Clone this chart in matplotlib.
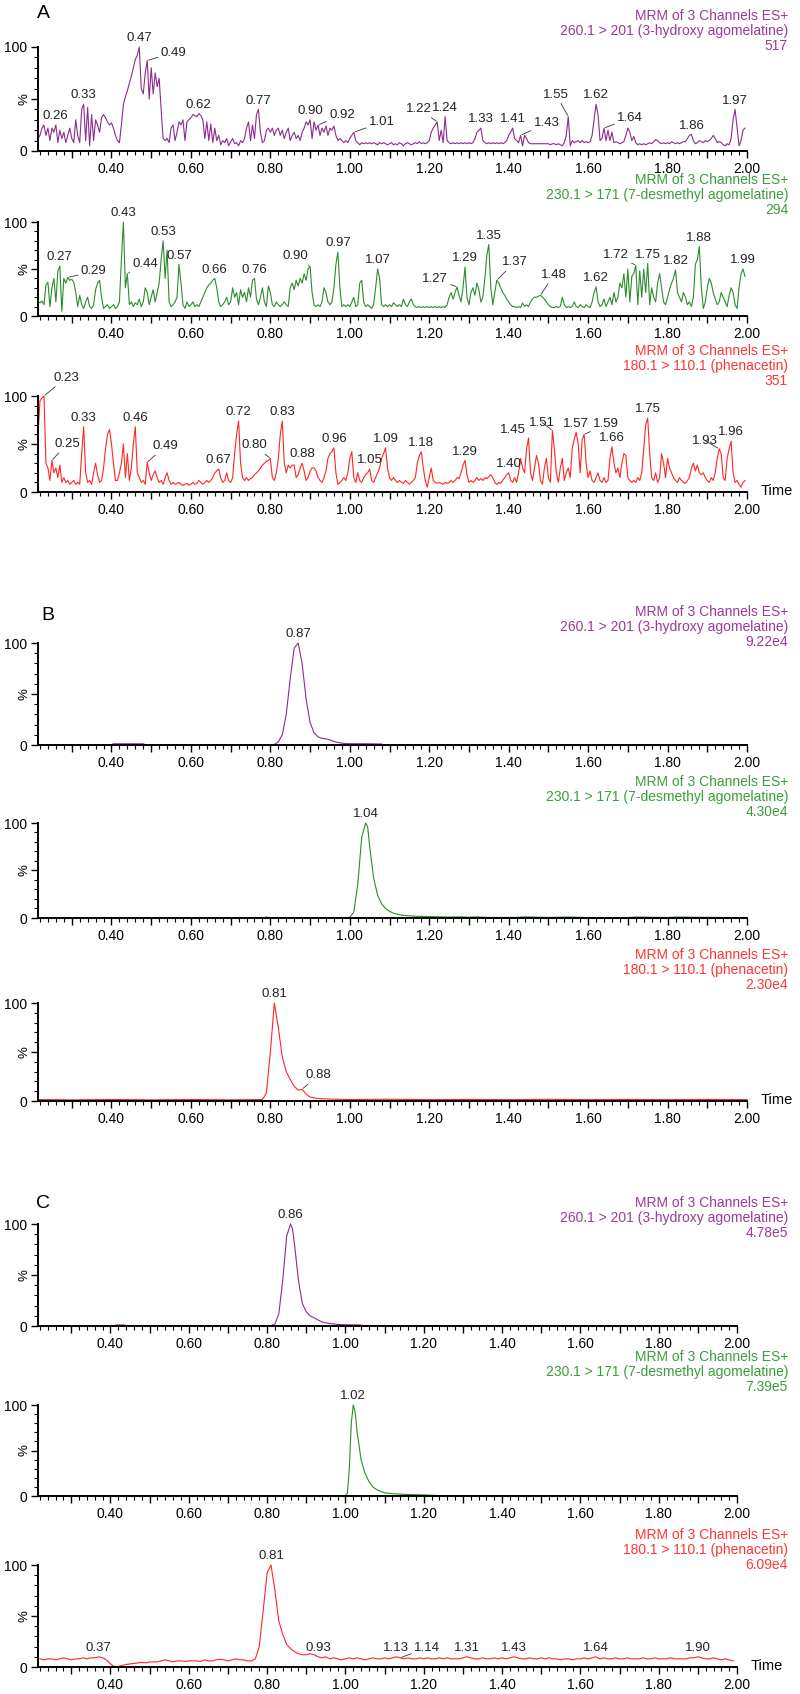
import numpy as np
import matplotlib
matplotlib.use("Agg")
import matplotlib.pyplot as plt
from matplotlib.ticker import MultipleLocator, FixedLocator, FuncFormatter

plt.rcParams['font.family'] = ['Liberation Sans', 'DejaVu Sans']

W, H = 800, 1694

# =============================================================================
# data
# =============================================================================

# --- panel A (blank-ish noise traces), one scan every 0.005 min from 0.215
a_start, a_step = 0.215, 0.005

a1_hydroxy = [
    12, 15, 22, 25, 15, 22, 10, 22, 18, 25, 8, 20, 12, 18, 8, 15, 22, 12, 8, 30,
    15, 8, 40, 45, 10, 42, 5, 35, 10, 30, 25, 18, 32, 35, 32, 28, 25, 27, 22, 15,
    10, 8, 25, 45, 52, 58, 65, 72, 80, 88, 92, 100, 60, 55, 75, 87, 50, 80, 55, 75,
    62, 70, 40, 12, 10, 12, 8, 22, 25, 10, 18, 28, 25, 30, 10, 28, 30, 32, 35, 34,
    33, 36, 34, 30, 12, 28, 10, 26, 8, 22, 10, 15, 6, 10, 8, 12, 5, 9, 12, 7,
    8, 5, 10, 8, 12, 22, 28, 10, 25, 12, 35, 40, 18, 8, 10, 20, 22, 18, 22, 15,
    20, 22, 15, 20, 12, 18, 22, 10, 15, 18, 12, 15, 10, 18, 22, 28, 25, 30, 12, 28,
    20, 25, 15, 22, 18, 24, 15, 22, 20, 24, 15, 10, 12, 10, 8, 10, 8, 12, 15, 18,
    10, 8, 6, 8, 7, 8, 7, 8, 7, 8, 7, 6, 8, 7, 8, 7, 6, 7, 8, 6,
    7, 6, 8, 7, 5, 7, 8, 7, 6, 7, 8, 7, 9, 7, 8, 7, 8, 10, 18, 22,
    25, 28, 10, 20, 8, 33, 10, 8, 7, 8, 7, 8, 7, 8, 7, 8, 7, 8, 7, 8,
    12, 18, 20, 22, 10, 8, 7, 8, 7, 8, 7, 8, 7, 8, 7, 8, 10, 15, 18, 22,
    12, 10, 8, 15, 5, 15, 12, 8, 7, 7, 7, 7, 7, 7, 7, 7, 7, 7, 6, 7,
    7, 6, 7, 6, 5, 8, 15, 33, 5, 10, 8, 9, 10, 8, 10, 8, 9, 8, 9, 15,
    30, 45, 35, 10, 12, 22, 10, 20, 10, 18, 8, 9, 8, 7, 8, 9, 15, 22, 18, 10,
    14, 8, 6, 7, 6, 7, 6, 7, 8, 7, 9, 11, 10, 8, 7, 8, 7, 8, 7, 9,
    8, 7, 8, 7, 8, 9, 9, 12, 15, 16, 10, 7, 8, 10, 9, 8, 10, 9, 10, 12,
    15, 12, 8, 9, 8, 6, 5, 7, 6, 12, 30, 40, 22, 5, 10, 20, 22,
]
a2_desmethyl = [
    15, 14, 16, 12, 33, 36, 10, 30, 40, 15, 48, 53, 5, 40, 35, 41, 38, 39, 36, 25,
    10, 22, 12, 8, 15, 20, 10, 8, 12, 28, 35, 38, 20, 8, 10, 12, 8, 10, 12, 8,
    10, 15, 60, 100, 30, 45, 12, 15, 10, 14, 12, 18, 10, 15, 30, 25, 12, 20, 28, 15,
    25, 35, 60, 80, 40, 70, 15, 10, 12, 15, 20, 55, 35, 12, 8, 15, 10, 12, 15, 10,
    12, 10, 15, 20, 25, 30, 33, 35, 38, 40, 30, 15, 10, 12, 15, 20, 12, 15, 30, 20,
    25, 12, 28, 20, 25, 15, 30, 20, 38, 40, 18, 12, 20, 30, 15, 10, 32, 25, 12, 10,
    15, 12, 10, 12, 15, 12, 10, 30, 35, 28, 38, 32, 40, 35, 45, 38, 50, 53, 25, 12,
    10, 12, 10, 15, 30, 25, 15, 12, 15, 30, 55, 68, 30, 10, 12, 10, 12, 10, 15, 20,
    10, 12, 35, 38, 15, 10, 12, 10, 8, 12, 30, 50, 40, 12, 10, 12, 10, 12, 10, 14,
    12, 10, 12, 10, 18, 12, 10, 15, 18, 12, 10, 9, 10, 9, 10, 9, 10, 9, 10, 9,
    10, 9, 10, 9, 10, 9, 12, 20, 25, 18, 25, 31, 22, 15, 30, 52, 20, 12, 25, 30,
    22, 35, 28, 15, 20, 40, 65, 76, 30, 12, 25, 38, 35, 30, 25, 22, 18, 15, 12, 10,
    10, 9, 10, 9, 14, 10, 12, 10, 15, 18, 20, 20, 21, 22, 20, 18, 15, 12, 10, 9,
    9, 10, 9, 10, 20, 12, 9, 10, 9, 10, 15, 10, 9, 12, 10, 9, 12, 10, 9, 15,
    25, 31, 15, 10, 12, 18, 10, 15, 20, 12, 25, 15, 20, 35, 30, 45, 20, 50, 15, 42,
    45, 54, 12, 48, 20, 50, 25, 56, 12, 30, 20, 15, 35, 45, 30, 15, 12, 20, 28, 35,
    40, 49, 25, 20, 15, 25, 20, 12, 15, 10, 20, 55, 60, 74, 30, 8, 15, 30, 40, 35,
    25, 18, 12, 15, 25, 20, 15, 10, 22, 30, 25, 12, 8, 30, 45, 50, 42,
]
a3_phenacetin = [
    60, 95, 98, 100, 30, 25, 12, 33, 20, 25, 15, 28, 10, 15, 10, 12, 8, 10, 12, 8,
    10, 8, 40, 68, 20, 10, 12, 8, 20, 30, 18, 10, 12, 25, 45, 60, 65, 50, 30, 12,
    12, 20, 30, 50, 15, 40, 12, 25, 50, 68, 20, 15, 10, 12, 8, 31, 20, 12, 18, 22,
    15, 10, 12, 8, 15, 20, 12, 8, 10, 8, 9, 10, 8, 7, 8, 9, 7, 8, 10, 8,
    9, 12, 10, 8, 10, 12, 10, 12, 15, 20, 22, 24, 15, 10, 12, 20, 12, 10, 15, 40,
    60, 74, 30, 15, 12, 15, 12, 14, 15, 18, 20, 22, 25, 28, 30, 32, 33, 35, 15, 12,
    20, 35, 60, 74, 30, 20, 28, 25, 28, 28, 15, 18, 25, 30, 22, 12, 15, 22, 25, 25,
    22, 15, 12, 10, 15, 22, 35, 40, 42, 46, 20, 8, 10, 12, 15, 12, 20, 35, 42, 15,
    10, 20, 12, 10, 15, 18, 20, 24, 12, 10, 15, 20, 25, 35, 40, 46, 25, 15, 12, 15,
    12, 10, 12, 10, 9, 12, 10, 8, 10, 12, 15, 30, 38, 42, 25, 12, 5, 15, 25, 12,
    10, 9, 10, 9, 8, 10, 9, 10, 12, 10, 12, 15, 14, 20, 28, 33, 18, 10, 12, 10,
    12, 15, 12, 14, 12, 15, 14, 16, 18, 15, 10, 8, 10, 9, 12, 15, 18, 20, 12, 10,
    15, 10, 20, 35, 25, 20, 45, 56, 20, 12, 25, 38, 30, 12, 8, 25, 35, 15, 10, 64,
    45, 20, 10, 25, 35, 12, 20, 25, 15, 45, 55, 62, 50, 20, 55, 60, 30, 15, 22, 12,
    10, 15, 20, 12, 10, 15, 10, 12, 35, 47, 30, 20, 25, 15, 30, 40, 38, 15, 12, 10,
    12, 10, 15, 12, 20, 45, 70, 77, 40, 15, 12, 20, 10, 15, 40, 30, 15, 35, 25, 20,
    15, 12, 10, 15, 12, 10, 9, 12, 15, 25, 30, 22, 28, 20, 18, 20, 15, 12, 10, 15,
    12, 20, 35, 45, 40, 15, 12, 35, 45, 53, 20, 10, 12, 8, 5, 10, 12,
]

a1_peaks = ["0.26", "0.33", "0.47", "0.49", "0.62", "0.77", "0.90", "0.92", "1.01",
            "1.22", "1.24", "1.33", "1.41", "1.43", "1.55", "1.62", "1.64", "1.86", "1.97"]
a2_peaks = ["0.27", "0.29", "0.43", "0.44", "0.53", "0.57", "0.66", "0.76", "0.90",
            "0.97", "1.07", "1.27", "1.29", "1.35", "1.37", "1.48", "1.62", "1.72",
            "1.75", "1.82", "1.88", "1.99"]
a3_peaks = ["0.23", "0.25", "0.33", "0.46", "0.49", "0.67", "0.72", "0.80", "0.83",
            "0.88", "0.96", "1.05", "1.09", "1.18", "1.29", "1.40", "1.45", "1.51",
            "1.57", "1.59", "1.66", "1.75", "1.93", "1.96"]

# --- panel B (extracted sample)
b1_time = [0.215, 0.40, 0.405, 0.48, 0.485, 0.80, 0.81, 0.82, 0.83, 0.84, 0.85, 0.86,
           0.87, 0.88, 0.89, 0.90, 0.91, 0.92, 0.93, 0.94, 0.95, 0.96, 0.97, 0.98,
           0.99, 1.00, 1.04, 1.08, 1.085, 2.00]
b1_hydroxy = [0.3, 0.3, 1.2, 1.2, 0.3, 0.3, 0.5, 3, 10, 30, 65, 95,
              100, 80, 45, 22, 12, 8, 6.5, 6, 5, 3.5, 2.5, 1.8,
              1.5, 1.3, 1.2, 1.0, 0.3, 0.3]
b2_time = [0.215, 0.785, 0.79, 0.795, 0.995, 1.00, 1.01, 1.02, 1.03, 1.04, 1.045, 1.05,
           1.06, 1.07, 1.08, 1.09, 1.10, 1.11, 1.12, 1.13, 1.15, 1.17, 1.20, 1.22,
           1.25, 1.28, 1.30, 1.32, 1.35, 1.42, 1.44, 1.50, 1.55, 1.60, 1.70, 1.72,
           1.80, 1.82, 2.00]
b2_desmethyl = [0.3, 0.3, 1.2, 0.3, 0.3, 1, 6, 35, 85, 100, 96, 75,
                42, 24, 15, 10, 7, 5, 4, 3, 2.2, 1.8, 1.5, 1.3,
                1.0, 1.2, 0.8, 1.2, 0.6, 0.6, 1.2, 0.6, 1.0, 0.5, 0.5, 1.0,
                0.5, 1.0, 0.3]
b3_time = [0.215, 0.30, 0.40, 0.50, 0.60, 0.70, 0.78, 0.79, 0.80, 0.81, 0.82, 0.83,
           0.84, 0.85, 0.86, 0.87, 0.88, 0.89, 0.90, 0.92, 0.95, 1.00, 1.10, 1.20,
           1.30, 1.40, 1.50, 1.60, 1.70, 1.80, 1.90, 2.00]
b3_phenacetin = [1.5, 1.2, 1.5, 1.2, 1.5, 1.2, 1.5, 8, 50, 100, 75, 45,
                 30, 22, 15, 11, 12, 7, 4, 2.5, 2, 1.5, 1.8, 1.4,
                 1.6, 1.4, 1.7, 1.4, 1.6, 1.4, 1.6, 1.4]

b1_peaks = ["0.87"]
b2_peaks = ["1.04"]
b3_peaks = ["0.81", "0.88"]

# --- panel C (spiked sample)
c1_time = [0.215, 0.41, 0.415, 0.435, 0.44, 0.81, 0.82, 0.83, 0.84, 0.85, 0.86, 0.865,
           0.87, 0.88, 0.89, 0.90, 0.91, 0.92, 0.93, 0.94, 0.95, 0.96, 0.98, 1.00,
           1.04, 1.045, 2.00]
c1_hydroxy = [0.3, 0.3, 1, 1, 0.3, 0.3, 2, 12, 45, 88, 100, 95,
              80, 45, 22, 14, 10, 8, 6, 4, 3, 2.5, 1.5, 1.2,
              1.0, 0.3, 0.3]
c2_time = [0.215, 1.00, 1.005, 1.01, 1.015, 1.02, 1.025, 1.03, 1.04, 1.05, 1.06, 1.07,
           1.08, 1.09, 1.10, 1.12, 1.15, 1.20, 1.22, 1.25, 2.00]
c2_desmethyl = [0.3, 0.3, 3, 30, 80, 100, 92, 70, 40, 25, 16, 10,
                7, 5, 3.5, 2.5, 1.8, 1.2, 0.8, 0.3, 0.3]
c3_start, c3_step = 0.22, 0.01
c3_phenacetin = [
    8, 7, 8, 8, 7, 8, 9, 8, 7, 8,
    8, 9, 8, 9, 9, 10, 9, 7, 3, 0.5,
    0.5, 1.5, 2.5, 3, 3.5, 4, 4.5, 4, 5, 5,
    5, 6, 7, 6, 5, 6, 6, 5.5, 6, 6,
    6, 5.5, 7, 6, 6, 7, 7.5, 7, 6, 7,
    8, 7, 7, 6, 6, 8, 20, 55, 92, 100,
    75, 45, 32, 22, 18, 15, 13, 12, 12, 13,
    12, 10, 9, 10, 8, 9, 8, 7, 8, 9,
    8, 9, 8, 7, 8, 9, 8, 8, 9, 8,
    9, 10, 9, 8, 9, 8, 8, 9, 8, 9,
    8, 8, 9, 8, 9, 8, 8, 8, 9, 10,
    9, 8, 8, 9, 8, 8, 9, 8, 9, 8,
    9, 10, 9, 8, 8, 9, 8, 8, 9, 8,
    9, 8, 8, 7, 8, 8, 7, 8, 8, 9,
    8, 9, 10, 8, 9, 8, 8, 9, 8, 8,
    9, 8, 8, 8, 9, 8, 8, 9, 8, 8,
    8, 9, 8, 8, 8, 8, 9, 9, 10, 9,
    8, 8, 9, 8, 7, 8, 7, 6,
]
c1_peaks = ["0.86"]
c2_peaks = ["1.02"]
c3_peaks = ["0.37", "0.81", "0.93", "1.13", "1.14", "1.31", "1.43", "1.64", "1.90"]

channels = ["260.1 > 201 (3-hydroxy agomelatine)",
            "230.1 > 171 (7-desmethyl agomelatine)",
            "180.1 > 110.1 (phenacetin)"]
a_counts = ["517", "294", "351"]
b_counts = ["9.22e4", "4.30e4", "2.30e4"]
c_counts = ["4.78e5", "7.39e5", "6.09e4"]

# =============================================================================
# layout / style
# =============================================================================

line_cols = ['#8c2d8c', '#2e8b2e', '#ff2626']
text_cols = ['#9a3a9a', '#3a9e3a', '#ff3535']

# (top of 100, bottom at 0, right end, first header line) in pixels
boxes = [(47, 151, 747, 16), (222, 316, 747, 180), (396, 492, 747, 351),
         (643, 745, 747, 612), (823, 918, 747, 782), (1003, 1101, 747, 955),
         (1224, 1326, 737, 1203), (1405, 1496, 737, 1357), (1565, 1667, 737, 1535)]

# label offsets (px, text centre relative to apex) for labels with a leader line
leaders = [
    {"0.49": (26, 8), "0.92": (24, 10), "1.01": (28, 10), "1.22": (-18, 13),
     "1.43": (26, 12), "1.55": (-12, 22), "1.64": (26, 10)},
    {"0.29": (26, 6), "0.44": (18, 10), "0.90": (-15, 10), "1.27": (-22, 8),
     "1.37": (18, 18), "1.48": (13, 20), "1.72": (-20, 10)},
    {"0.23": (22, 18), "0.25": (15, 16), "0.49": (18, 16), "0.80": (-16, 13),
     "1.45": (-16, 8), "1.51": (-10, 8), "1.59": (22, 10), "1.93": (-14, 8)},
    {}, {}, {"0.88": (16, 14)},
    {}, {}, {"1.14": (27, 10)},
]

fig = plt.figure(figsize=(W / 100, H / 100), dpi=100)


def make_axes(top, bottom, right):
    ax = fig.add_axes([38 / W, 1 - bottom / H, (right - 38) / W, (bottom - top) / H])
    ax.set_xlim(0.215, 2.0)
    ax.set_ylim(0, 100)
    ax.patch.set_alpha(0)
    for s in ['top', 'right']:
        ax.spines[s].set_visible(False)
    for s in ['left', 'bottom']:
        ax.spines[s].set_linewidth(1.4)
    ax.xaxis.set_major_locator(MultipleLocator(0.1))
    ax.xaxis.set_minor_locator(MultipleLocator(0.02))
    ax.xaxis.set_major_formatter(FuncFormatter(
        lambda v, p: f"{v:.2f}" if round(v * 10) % 2 == 0 else ""))
    ax.yaxis.set_major_locator(FixedLocator([0, 50, 100]))
    ax.yaxis.set_minor_locator(MultipleLocator(10))
    ax.yaxis.set_major_formatter(FuncFormatter(
        lambda v, p: "" if v == 50 else f"{v:.0f}"))
    ax.tick_params(which='major', length=5, width=1, labelsize=10, pad=3)
    ax.tick_params(which='minor', length=3, width=0.8)
    ax.annotate('%', xy=(0, 50), xycoords=('axes fraction', 'data'),
                xytext=(-10, 0), textcoords='offset points', rotation=90,
                ha='center', va='center', fontsize=9.5)
    return ax


def label_peaks(ax, t, y, labels, lead):
    t = np.asarray(t)
    y = np.asarray(y)
    for lab in labels:
        i = np.argmin(np.abs(t - float(lab)))
        if lab in lead:
            dx, dy = lead[lab]
            ax.annotate(lab, xy=(t[i], y[i]), xytext=(dx * 0.72, dy * 0.72),
                        textcoords='offset points', ha='center', va='center',
                        fontsize=9.5, color='#222222', annotation_clip=False,
                        arrowprops=dict(arrowstyle='-', lw=0.6, color='#333333',
                                        shrinkA=0, shrinkB=1))
        else:
            ax.annotate(lab, xy=(t[i], y[i]), xytext=(0, 2),
                        textcoords='offset points', ha='center', va='bottom',
                        fontsize=9.5, color='#222222', annotation_clip=False)


a_time = a_start + a_step * np.arange(len(a1_hydroxy))
c3_time = c3_start + c3_step * np.arange(len(c3_phenacetin))

traces = [(a_time, a1_hydroxy, a1_peaks), (a_time, a2_desmethyl, a2_peaks),
          (a_time, a3_phenacetin, a3_peaks),
          (b1_time, b1_hydroxy, b1_peaks), (b2_time, b2_desmethyl, b2_peaks),
          (b3_time, b3_phenacetin, b3_peaks),
          (c1_time, c1_hydroxy, c1_peaks), (c2_time, c2_desmethyl, c2_peaks),
          (c3_time, c3_phenacetin, c3_peaks)]
counts = a_counts + b_counts + c_counts

for k, (t, y, labs) in enumerate(traces):
    top, bottom, right, head = boxes[k]
    ch = k % 3
    ax = make_axes(top, bottom, right)
    ax.plot(t, y, color=line_cols[ch], lw=0.8, clip_on=False)
    label_peaks(ax, t, y, labs, leaders[k])
    for j, txt in enumerate(["MRM of 3 Channels ES+", channels[ch], counts[k]]):
        fig.text(788 / W, 1 - (head + 15 * j) / H, txt, ha='right', va='center',
                 color=text_cols[ch], fontsize=10)
    if ch == 2:
        ax.annotate('Time', xy=(1, 0), xycoords='axes fraction', xytext=(10, 1),
                    textcoords='offset points', ha='left', va='center', fontsize=10.5)

for letter, (x, y) in zip("ABC", [(43, 14), (48, 615), (43, 1203)]):
    fig.text(x / W, 1 - y / H, letter, ha='center', va='center', fontsize=14)

plt.savefig("out.png", dpi=100)
